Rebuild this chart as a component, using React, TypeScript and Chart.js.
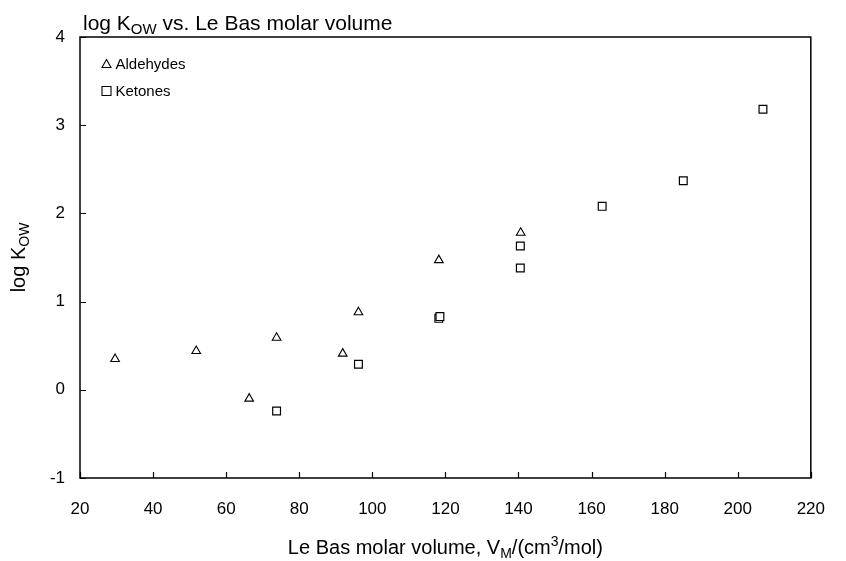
import React, { useEffect, useRef } from "react";
import { Chart, registerables } from "chart.js";

Chart.register(...registerables);

const aldehydeX = [29.6, 51.8, 66.3, 73.8, 91.9, 96.2, 118.2, 140.6];
const aldehydeY = [0.35, 0.44, -0.1, 0.59, 0.41, 0.88, 1.47, 1.78];
const ketoneX = [73.8, 96.2, 118.2, 118.5, 140.5, 140.5, 162.9, 185.1, 206.9];
const ketoneY = [-0.24, 0.29, 0.81, 0.83, 1.63, 1.38, 2.08, 2.37, 3.18];
const seriesNames = ["Aldehydes", "Ketones"];
const xMin = 20, xMax = 220, xStep = 20;
const yMin = -1, yMax = 4, yStep = 1;

const FONT = "'Liberation Sans', Arial, sans-serif";

type Part = { t: string; mode?: "sub" | "sup" };

function drawRich(ctx: CanvasRenderingContext2D, parts: Part[], x: number, y: number, size: number, align: "left" | "center") {
  const small = Math.round(size * 0.7);
  const widths = parts.map((p) => {
    ctx.font = `${p.mode ? small : size}px ${FONT}`;
    return ctx.measureText(p.t).width;
  });
  const total = widths.reduce((a, b) => a + b, 0);
  let cx = align === "center" ? x - total / 2 : x;
  ctx.textBaseline = "alphabetic";
  ctx.textAlign = "left";
  parts.forEach((p, i) => {
    ctx.font = `${p.mode ? small : size}px ${FONT}`;
    const dy = p.mode === "sub" ? size * 0.2 : p.mode === "sup" ? -size * 0.4 : 0;
    ctx.fillText(p.t, cx, y + dy);
    cx += widths[i];
  });
}

const decor = {
  id: "decor",
  afterDraw(chart: any) {
    const ctx: CanvasRenderingContext2D = chart.ctx;
    const a = chart.chartArea;
    const xs = chart.scales.x;
    const ys = chart.scales.y;
    ctx.save();
    ctx.strokeStyle = "#000";
    ctx.fillStyle = "#000";
    ctx.lineWidth = 1.5;
    ctx.strokeRect(a.left, a.top, a.right - a.left, a.bottom - a.top);
    ctx.lineWidth = 1.2;
    ctx.beginPath();
    xs.ticks.forEach((t: any) => {
      const px = Math.round(xs.getPixelForValue(t.value)) + 0.5;
      ctx.moveTo(px, a.bottom);
      ctx.lineTo(px, a.bottom - 6);
    });
    ys.ticks.forEach((t: any) => {
      const py = Math.round(ys.getPixelForValue(t.value)) + 0.5;
      ctx.moveTo(a.left, py);
      ctx.lineTo(a.left + 6, py);
    });
    ctx.stroke();

    // title
    drawRich(ctx, [{ t: "log K" }, { t: "OW", mode: "sub" }, { t: " vs. Le Bas molar volume" }], a.left + 3, 30, 21, "left");
    // x title
    drawRich(
      ctx,
      [
        { t: "Le Bas molar volume, V" },
        { t: "M", mode: "sub" },
        { t: "/(cm" },
        { t: "3", mode: "sup" },
        { t: "/mol)" },
      ],
      (a.left + a.right) / 2,
      554,
      20,
      "center"
    );
    // y title
    ctx.save();
    ctx.translate(25, (a.top + a.bottom) / 2);
    ctx.rotate(-Math.PI / 2);
    drawRich(ctx, [{ t: "log K" }, { t: "OW", mode: "sub" }], 0, 0, 20, "center");
    ctx.restore();

    // legend
    const items = [
      { name: seriesNames[0], style: "triangle", y: 64 },
      { name: seriesNames[1], style: "rect", y: 91 },
    ];
    items.forEach((it) => {
      ctx.lineWidth = 1.1;
      ctx.strokeStyle = "#000";
      ctx.fillStyle = "#fff";
      ctx.beginPath();
      const cx = a.left + 26.5;
      if (it.style === "triangle") {
        ctx.moveTo(cx, it.y - 4.5);
        ctx.lineTo(cx + 4.5, it.y + 3.5);
        ctx.lineTo(cx - 4.5, it.y + 3.5);
        ctx.closePath();
      } else {
        ctx.rect(cx - 4.5, it.y - 4.5, 9, 9);
      }
      ctx.fill();
      ctx.stroke();
      ctx.fillStyle = "#000";
      ctx.font = `15px ${FONT}`;
      ctx.textBaseline = "middle";
      ctx.textAlign = "left";
      ctx.fillText(it.name, cx + 9, it.y + 1);
    });
    ctx.restore();
  },
};

export default function App() {
  const ref = useRef<HTMLCanvasElement>(null);
  useEffect(() => {
    const c = ref.current;
    if (!c) return;
    const chart = new Chart(c, {
      type: "scatter",
      data: {
        datasets: [
          {
            label: seriesNames[0],
            data: aldehydeX.map((x, i) => ({ x, y: aldehydeY[i] })),
            pointStyle: "triangle",
            pointRadius: 5,
            backgroundColor: "#fff",
            borderColor: "#000",
            borderWidth: 1.1,
          },
          {
            label: seriesNames[1],
            data: ketoneX.map((x, i) => ({ x, y: ketoneY[i] })),
            pointStyle: "rect",
            pointRadius: 5.5,
            backgroundColor: "#fff",
            borderColor: "#000",
            borderWidth: 1.2,
          },
        ],
      },
      options: {
        animation: false,
        responsive: false,
        maintainAspectRatio: false,
        events: [],
        layout: { padding: { left: 0, top: 37, right: 22, bottom: 0 } },
        plugins: { legend: { display: false }, title: { display: false }, tooltip: { enabled: false } },
        scales: {
          x: {
            type: "linear",
            min: xMin,
            max: xMax,
            border: { display: false },
            grid: { display: false, drawTicks: false },
            ticks: { stepSize: xStep, padding: 21, color: "#000", font: { family: FONT, size: 17 } },
            afterFit: (s: any) => {
              s.height = 83;
            },
          },
          y: {
            type: "linear",
            min: yMin,
            max: yMax,
            border: { display: false },
            grid: { display: false, drawTicks: false },
            ticks: { stepSize: yStep, padding: 15, color: "#000", font: { family: FONT, size: 17 } },
            afterFit: (s: any) => {
              s.width = 80;
            },
          },
        },
      },
      plugins: [decor],
    });
    return () => chart.destroy();
  }, []);
  return (
    <div style={{ position: "fixed", left: 0, top: 0, width: 846, height: 561, background: "#fff" }}>
      <canvas ref={ref} width={846} height={561} style={{ width: 846, height: 561, display: "block" }} />
    </div>
  );
}
